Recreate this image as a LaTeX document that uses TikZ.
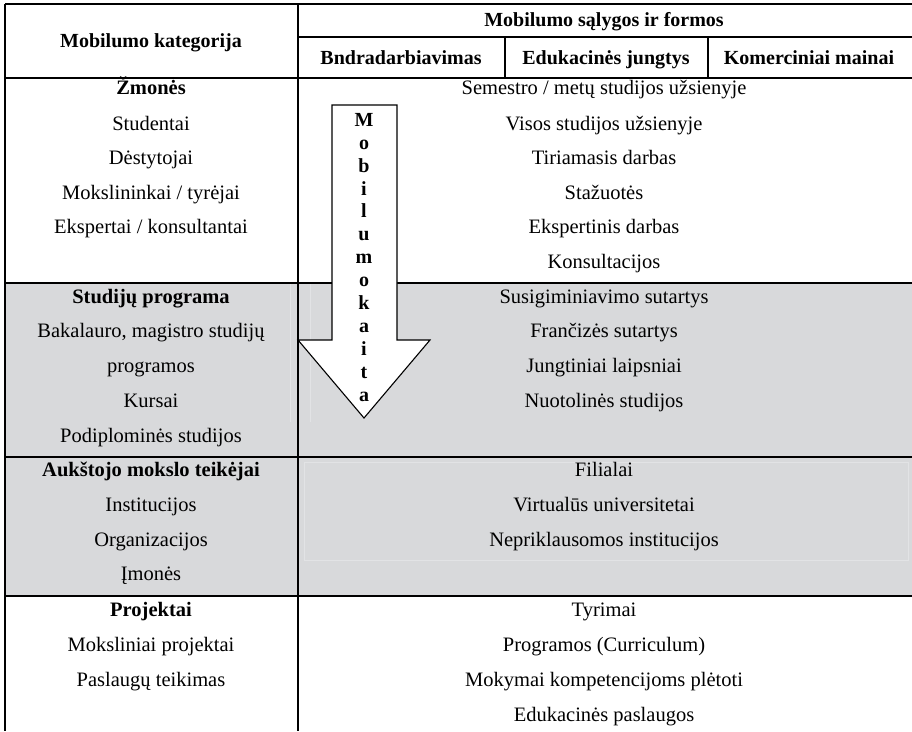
\documentclass[tikz,border=0pt]{standalone}
\usepackage{fontspec}
\setmainfont{Liberation Serif}
\definecolor{rowgrey}{HTML}{D8D9DB}
\definecolor{faintline}{HTML}{E2E3E5}
\begin{document}
\begin{tikzpicture}[x=1pt,y=-1pt,
  rule/.style={line width=1.2pt,black},
  cell/.style={anchor=base,inner sep=0pt,font=\fontsize{20.5}{24}\selectfont},
  bcell/.style={cell,font=\fontsize{20.5}{24}\selectfont\bfseries},
  hdr/.style={anchor=base,inner sep=0pt,font=\fontsize{20}{24}\selectfont\bfseries},
  blockarrow/.style={draw=black,line width=1.1pt,fill=white,line join=miter}]
% page frame
\path[use as bounding box,fill=white] (0,0) rectangle (912,731);

% shaded rows
\fill[rowgrey] (5,283) rectangle (912,596);
\draw[faintline,line width=0.8pt] (290,283) -- (290,422);
\draw[faintline,line width=0.8pt] (310,283) -- (310,422);
\draw[faintline,line width=0.8pt] (304,462) rectangle (908,560);

% table rules
\draw[rule] (5,4) -- (912,4);
\draw[rule] (5,4) -- (5,731);
\draw[rule] (298,4) -- (298,731);
\draw[rule] (298,37) -- (912,37);
\draw[rule] (505,37) -- (505,78);
\draw[rule] (708,37) -- (708,78);
\draw[rule] (5,78) -- (912,78);
\draw[rule] (5,283) -- (912,283);
\draw[rule] (5,457) -- (912,457);
\draw[rule] (5,596) -- (912,596);

% header
\node[hdr] (hcat) at (151,47) {Mobilumo kategorija};
\node[hdr] (hform) at (604,26) {Mobilumo sąlygos ir formos};
\node[hdr] (hbnd) at (401,64) {Bndradarbiavimas};
\node[hdr] (hedu) at (606,64) {Edukacinės jungtys};
\node[hdr] (hkom) at (809,64) {Komerciniai mainai};

% people
\node[bcell] (p0) at (151,94) {Žmonės};
\node[cell] (p1) at (151,130) {Studentai};
\node[cell] (p2) at (151,164) {Dėstytojai};
\node[cell] (p3) at (151,199) {Mokslininkai / tyrėjai};
\node[cell] (p4) at (151,233) {Ekspertai / konsultantai};
\node[cell] (pf1) at (604,94) {Semestro / metų studijos užsienyje};
\node[cell] (pf2) at (604,130) {Visos studijos užsienyje};
\node[cell] (pf3) at (604,164) {Tiriamasis darbas};
\node[cell] (pf4) at (604,199) {Stažuotės};
\node[cell] (pf5) at (604,233) {Ekspertinis darbas};
\node[cell] (pf6) at (604,268) {Konsultacijos};

% study programmes
\node[bcell] (s0) at (151,303) {Studijų programa};
\node[cell] (s1) at (151,337) {Bakalauro, magistro studijų};
\node[cell] (s2) at (151,372) {programos};
\node[cell] (s3) at (151,407) {Kursai};
\node[cell] (s4) at (151,442) {Podiplominės studijos};
\node[cell] (sf1) at (604,303) {Susigiminiavimo sutartys};
\node[cell] (sf2) at (604,337) {Frančizės sutartys};
\node[cell] (sf3) at (604,372) {Jungtiniai laipsniai};
\node[cell] (sf4) at (604,407) {Nuotolinės studijos};

% providers
\node[bcell] (a0) at (151,476) {Aukštojo mokslo teikėjai};
\node[cell] (a1) at (151,511) {Institucijos};
\node[cell] (a2) at (151,546) {Organizacijos};
\node[cell] (a3) at (151,580) {Įmonės};
\node[cell] (af1) at (604,476) {Filialai};
\node[cell] (af2) at (604,511) {Virtualūs universitetai};
\node[cell] (af3) at (604,546) {Nepriklausomos institucijos};

% projects
\node[bcell] (r0) at (151,616) {Projektai};
\node[cell] (r1) at (151,651) {Moksliniai projektai};
\node[cell] (r2) at (151,686) {Paslaugų teikimas};
\node[cell] (rf1) at (604,616) {Tyrimai};
\node[cell] (rf2) at (604,651) {Programos (Curriculum)};
\node[cell] (rf3) at (604,686) {Mokymai kompetencijoms plėtoti};
\node[cell] (rf4) at (604,721) {Edukacinės paslaugos};

% mobility change arrow
\draw[blockarrow] (332,105) -- (397,105) -- (397,340) -- (430,340) -- (364,418)
  -- (298,340) -- (332,340) -- cycle;
\node[anchor=north,inner sep=0pt,align=center,
  font=\fontsize{20}{22.9}\selectfont\bfseries] (arrowtxt) at (364,113)
  {M\\o\\b\\i\\l\\u\\m\\o\\k\\a\\i\\t\\a};
\end{tikzpicture}
\end{document}
